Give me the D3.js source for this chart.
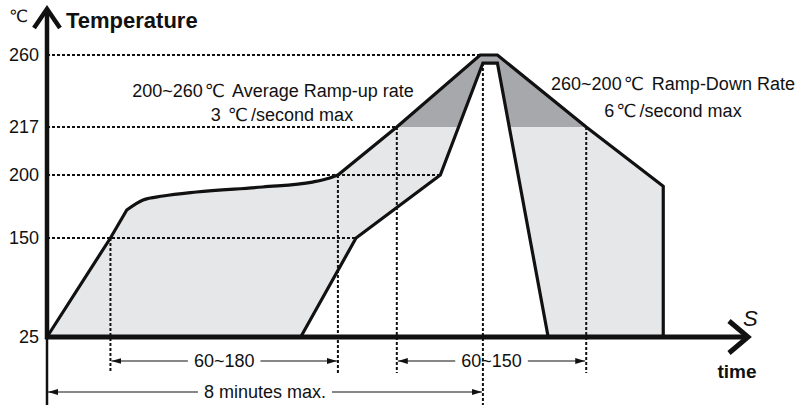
<!DOCTYPE html>
<html lang="en">
<head>
<meta charset="utf-8">
<title>Reflow profile</title>
<script src="https://d3js.org/d3.v7.min.js"></script>
<style>
  body { margin: 0; background: #fff; }
  svg { display: block; }
  text { font-family: "Liberation Sans", Arial, "DejaVu Sans", sans-serif; fill: #111; }
  .guide { stroke: #111; stroke-width: 2; stroke-dasharray: 3,2; fill: none; }
  .dim { stroke: #111; stroke-width: 1.2; fill: none; }
</style>
</head>
<body>
<div id="chart"></div>
<script>
// temperature levels on the y axis (°C)
var yTicks = [25, 150, 200, 217, 260];

// upper (max) profile: [time s, temp °C]
var rampUp = [[0, 25], [70, 150], [88, 172.2]];
var soak = [[88, 172.2], [106, 180.2], [128, 183.3], [165, 186.5], [238, 190.5], [293, 194.4], [312, 197.6], [321, 200]];
var peakDown = [[321, 200], [386, 217], [478, 260], [497, 260], [595, 217], [680, 191], [680, 25]];
// lower (min) profile, walked back from cooling side
var lowerProfile = [[553, 25], [497, 255.2], [481, 255.2], [434, 200], [341, 150], [280, 25]];

// dotted guides: horizontal [temp, time where it stops], vertical [time, temp where it starts, long?]
var hGuides = [[260, 478], [217, 386], [200, 434], [150, 341]];
var vGuides = [[70, 150, false], [321, 200, false], [386, 217, false], [481, 255.2, true], [595, 217, false]];

// dimension arrows under the axis
var dims = [
  { from: 70, to: 321, label: "60~180", row: 0 },
  { from: 386, to: 595, label: "60~150", row: 0 },
  { from: 0, to: 481, label: "8 minutes max.", row: 1 }
];

var notes = [
  { lines: ["200~260\u2103  Average Ramp-up rate", "3 \u2103/second max"], cx: [273, 282], base: [97, 121] },
  { lines: ["260~200\u2103 Ramp-Down Rate", "6\u2103/second  max"], cx: [673, 673], base: [90, 117] }
];

var width = 797, height = 405;

var svg = d3.select("#chart").append("svg")
    .attr("width", width)
    .attr("height", height);

svg.append("rect").attr("width", width).attr("height", height).attr("fill", "#fff");

var x = d3.scaleLinear().domain([0, 480]).range([47, 482]);
var y = d3.scaleLinear().domain(yTicks).range([337, 238, 175, 127, 55]);

// the degree sign is wide in the original, pad it a little
function richText(sel, str) {
  str.split(/(\u2103)/).forEach(function(part) {
    if (!part) return;
    var ts = sel.append("tspan").text(part);
    if (part === "\u2103") ts.attr("dx", 2).style("letter-spacing", "3px");
  });
  return sel;
}

var lin = d3.line().x(function(d) { return x(d[0]); }).y(function(d) { return y(d[1]); });
var smooth = d3.line().x(function(d) { return x(d[0]); }).y(function(d) { return y(d[1]); }).curve(d3.curveMonotoneX);

var outline = lin(rampUp)
    + smooth(soak).replace(/^M/, "L")
    + lin(peakDown).replace(/^M/, "L")
    + lin(lowerProfile).replace(/^M/, "L") + "Z";

// shaded band
svg.append("path").attr("d", outline).attr("fill", "#e6e7e9");

svg.append("clipPath").attr("id", "above217")
  .append("rect").attr("x", 0).attr("y", 0).attr("width", width).attr("height", y(217));

svg.append("path").attr("d", outline).attr("fill", "#a7a8ac").attr("clip-path", "url(#above217)");

// dotted guides
svg.selectAll(".hguide").data(hGuides).enter().append("line")
    .attr("class", "guide")
    .attr("x1", x(0)).attr("x2", function(d) { return x(d[1]); })
    .attr("y1", function(d) { return y(d[0]); }).attr("y2", function(d) { return y(d[0]); });

svg.selectAll(".vguide").data(vGuides).enter().append("line")
    .attr("class", "guide")
    .attr("x1", function(d) { return x(d[0]); }).attr("x2", function(d) { return x(d[0]); })
    .attr("y1", function(d) { return y(d[1]); })
    .attr("y2", function(d) { return d[2] ? height : 373; });

// profile outline
svg.append("path").attr("d", outline)
    .attr("fill", "none").attr("stroke", "#111").attr("stroke-width", 3.2).attr("stroke-linejoin", "miter");

// axes
svg.append("line").attr("x1", x(0)).attr("x2", x(0)).attr("y1", y(25)).attr("y2", height)
    .attr("stroke", "#111").attr("stroke-width", 2.5);
svg.append("line").attr("x1", x(0)).attr("x2", x(0)).attr("y1", y(25)).attr("y2", 10)
    .attr("stroke", "#111").attr("stroke-width", 4.5);
svg.append("polyline").attr("points", "34,28 47,9 60,28")
    .attr("fill", "none").attr("stroke", "#111").attr("stroke-width", 4.5);

svg.append("line").attr("x1", x(0) - 2).attr("x2", 747).attr("y1", y(25)).attr("y2", y(25))
    .attr("stroke", "#111").attr("stroke-width", 5);
svg.append("polyline").attr("points", "729,321 748,337 729,353")
    .attr("fill", "none").attr("stroke", "#111").attr("stroke-width", 5);

var yAxis = d3.axisLeft(y).tickValues(yTicks).tickSize(0).tickPadding(8);
var gy = svg.append("g").attr("transform", "translate(" + x(0) + ",0)").call(yAxis);
gy.select(".domain").remove();
gy.selectAll("text").style("font-size", "18px").attr("fill", "#111")
    .style("font-family", "'Liberation Sans', Arial, sans-serif");

svg.append("text").attr("x", 9).attr("y", 22).style("font-size", "17px").text("\u2103");
svg.append("text").attr("x", 66).attr("y", 28).style("font-size", "22px").style("font-weight", "bold").text("Temperature");
svg.append("text").attr("x", 743).attr("y", 326).style("font-size", "22px").style("font-style", "italic").text("S");
svg.append("text").attr("x", 737).attr("y", 378).attr("text-anchor", "middle")
    .style("font-size", "19px").style("font-weight", "bold").text("time");

// annotations
notes.forEach(function(n) {
  n.lines.forEach(function(t, i) {
    var el = svg.append("text").attr("x", n.cx[i]).attr("y", n.base[i])
        .attr("text-anchor", "middle").style("font-size", "18px");
    richText(el, t);
  });
});

// dimension arrows
var defs = svg.append("defs");
defs.append("marker").attr("id", "tip").attr("viewBox", "0 0 10 6")
    .attr("refX", 10).attr("refY", 3).attr("markerWidth", 10).attr("markerHeight", 6)
    .attr("markerUnits", "userSpaceOnUse").attr("orient", "auto")
  .append("path").attr("d", "M0,0L10,3L0,6Z").attr("fill", "#111");

var rowY = [361, 392];
dims.forEach(function(d) {
  var x0 = x(d.from), x1 = x(d.to), cx = (x0 + x1) / 2, yy = rowY[d.row];
  var t = svg.append("text").attr("x", cx).attr("y", yy + 6)
      .attr("text-anchor", "middle").style("font-size", "18px").text(d.label);
  var half = t.node().getComputedTextLength() / 2 + 6;
  svg.append("line").attr("class", "dim").attr("x1", cx - half).attr("x2", x0 + 1)
      .attr("y1", yy).attr("y2", yy).attr("marker-end", "url(#tip)");
  svg.append("line").attr("class", "dim").attr("x1", cx + half).attr("x2", x1 - 1)
      .attr("y1", yy).attr("y2", yy).attr("marker-end", "url(#tip)");
});
</script>
</body>
</html>
